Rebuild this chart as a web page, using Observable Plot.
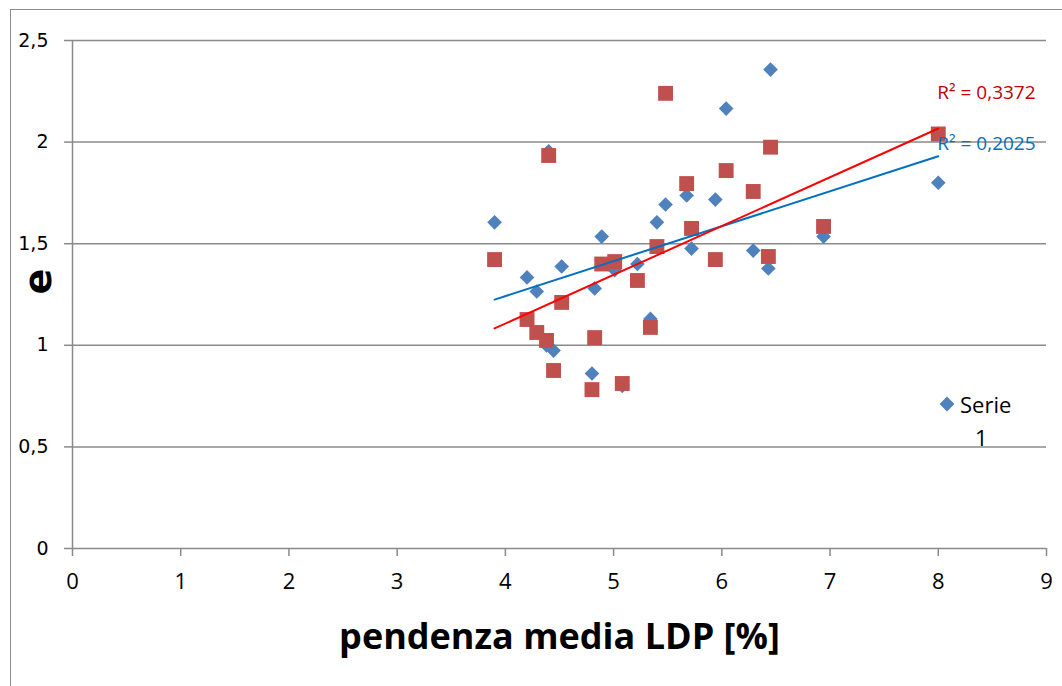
<!DOCTYPE html>
<html><head><meta charset="utf-8">
<script src="https://cdn.jsdelivr.net/npm/d3@7"></script>
<script src="https://cdn.jsdelivr.net/npm/@observablehq/plot@0.6"></script>
<style>
body{margin:0;background:#fff;}
#wrap{position:relative;width:1062px;height:686px;overflow:hidden;}
#frame{position:absolute;left:10px;top:9px;width:1060px;height:700px;border-left:1.5px solid #8c8c8c;border-top:1.5px solid #8c8c8c;pointer-events:none;}
#legend{position:absolute;left:0;top:0;pointer-events:none;}
</style></head>
<body><div id="wrap"><div id="frame"></div></div>
<script>
// Data
const pendenza = [3.90,4.20,4.29,4.38,4.40,4.445,4.52,4.80,4.825,4.89,5.01,5.08,5.22,5.34,5.40,5.48,5.675,5.72,5.94,6.04,6.29,6.43,6.45,6.94,8.00];
const serie1 =   [1.605,1.334,1.265,1.00,1.955,0.974,1.388,0.861,1.28,1.535,1.37,0.80,1.40,1.13,1.605,1.693,1.737,1.476,1.717,2.165,1.466,1.378,2.357,1.535,1.80];
const serie2 =   [1.422,1.127,1.063,1.024,1.934,0.876,1.211,0.782,1.038,1.40,1.412,0.812,1.319,1.088,1.486,2.24,1.796,1.575,1.422,1.86,1.757,1.437,1.975,1.585,2.04];
const trendX = [3.90, 8.00];
const trend1 = [1.225, 1.93];
const trend2 = [1.083, 2.067];
const r2Labels = ["R² = 0,3372", "R² = 0,2025"];
const xTicks = [0,1,2,3,4,5,6,7,8,9];
const yTicks = [0,0.5,1,1.5,2,2.5];
const xTitle = "pendenza media LDP [%]";
const yTitle = "e";
const legendLabel = ["Serie", "1"];

const s1 = pendenza.map((x,i)=>({x, y: serie1[i]}));
const s2 = pendenza.map((x,i)=>({x, y: serie2[i]}));
const t1 = trendX.map((x,i)=>({x, y: trend1[i]}));
const t2 = trendX.map((x,i)=>({x, y: trend2[i]}));
const fmt = d => String(d).replace(".", ",");

const grid = "#8a8a8a";
const chart = Plot.plot({
  width: 1062, height: 686,
  marginLeft: 72, marginRight: 16, marginTop: 40, marginBottom: 138,
  style: {background: "transparent", fontFamily: "'Open Sans', sans-serif"},
  x: {domain: [0, 9]},
  y: {domain: [0, 2.5]},
  marks: [
    Plot.gridY(yTicks.filter(d=>d>0), {stroke: grid, strokeOpacity: 1, strokeWidth: 1.5}),
    Plot.ruleY([0], {stroke: grid, strokeWidth: 1.5}),
    Plot.ruleX([0], {stroke: grid, strokeWidth: 1.5}),
    Plot.axisX({ticks: xTicks, tickSize: 8, tickPadding: 17, tickFormat: fmt, stroke: grid, strokeWidth: 1.5, fill: "#000", fontSize: 22, fontFamily: "'Open Sans', sans-serif", label: null}),
    Plot.axisY({ticks: yTicks, tickSize: 8, tickPadding: 16, tickFormat: fmt, stroke: grid, strokeWidth: 1.5, fill: "#000", fontSize: 19, fontFamily: "'DejaVu Sans', sans-serif", label: null}),
    Plot.dot(s1, {x: "x", y: "y", symbol: "diamond2", r: 6.6, fill: "#4F81BD", stroke: "none"}),
    Plot.dot(s2, {x: "x", y: "y", symbol: "square", r: 8.4, fill: "#C0504D", stroke: "none"}),
    Plot.line(t1, {x: "x", y: "y", stroke: "#0070C0", strokeWidth: 2}),
    Plot.line(t2, {x: "x", y: "y", stroke: "#FF0000", strokeWidth: 2}),
    Plot.text([r2Labels[0]], {x: trendX[1], y: trend2[1], text: d=>d, dx: -1, dy: -36, textAnchor: "start", fill: "#C00000", fontSize: 19, fontFamily: "'Open Sans', sans-serif"}),
    Plot.text([r2Labels[1]], {x: trendX[1], y: trend1[1], text: d=>d, dx: -1, dy: -12, textAnchor: "start", fill: "#0070C0", fontSize: 19, fontFamily: "'Open Sans', sans-serif"}),
    Plot.text([xTitle], {frameAnchor: "bottom", dy: 100, text: d=>d, fill: "#000", fontSize: 36, fontWeight: "bold", fontFamily: "'Open Sans', sans-serif"}),
    Plot.text([yTitle], {frameAnchor: "left", dx: -34, rotate: -90, text: d=>d, fill: "#000", fontSize: 38, fontWeight: "bold", fontFamily: "'DejaVu Sans', sans-serif"})
  ]
});
const wrap = document.getElementById("wrap");
wrap.insertBefore(chart, wrap.firstChild);

// legend overlay
const ns = "http://www.w3.org/2000/svg";
const lg = document.createElementNS(ns, "svg");
lg.setAttribute("id", "legend");
lg.setAttribute("width", 1062); lg.setAttribute("height", 686);
const sym = document.createElementNS(ns, "path");
sym.setAttribute("d", d3.symbol(d3.symbolDiamond2, 140)());
sym.setAttribute("transform", "translate(947,404)");
sym.setAttribute("fill", "#4F81BD");
lg.appendChild(sym);
[[960,413,legendLabel[0]],[975,446,legendLabel[1]]].forEach(([x,y,t])=>{
  const tx = document.createElementNS(ns, "text");
  tx.setAttribute("x", x); tx.setAttribute("y", y);
  tx.setAttribute("font-family", "'Open Sans', sans-serif");
  tx.setAttribute("font-size", 22);
  tx.textContent = t;
  lg.appendChild(tx);
});
wrap.appendChild(lg);
</script>
</body></html>
